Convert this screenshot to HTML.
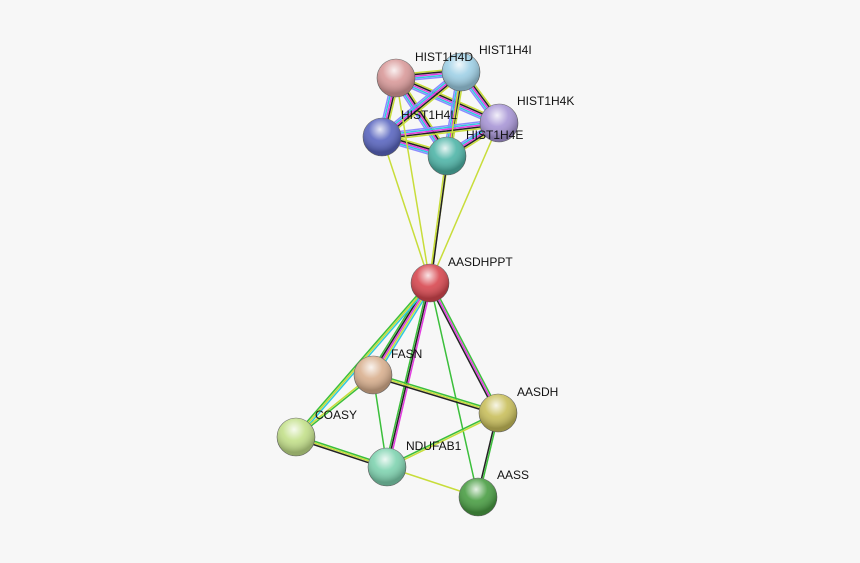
<!DOCTYPE html>
<html><head><meta charset="utf-8">
<style>
html,body{margin:0;padding:0;background:#f7f7f7;}
svg{display:block;}
text{font-family:"Liberation Sans",sans-serif;font-size:12px;fill:#111;}
</style></head>
<body>
<svg id="s" width="860" height="563" viewBox="0 0 860 563" xmlns="http://www.w3.org/2000/svg">
<defs>
<radialGradient id="hl" cx="45%" cy="30%" r="60%">
<stop offset="0" stop-color="#fff" stop-opacity="0.85"/>
<stop offset="0.5" stop-color="#fff" stop-opacity="0.1"/>
<stop offset="1" stop-color="#000" stop-opacity="0.25"/>
</radialGradient>
</defs>
<rect width="860" height="563" fill="#f7f7f7"/>
<g id="edges"></g>
<g id="nodes"></g>
<g>
<text x="415" y="61">HIST1H4D</text>
<text x="479" y="54">HIST1H4I</text>
<text x="517" y="105">HIST1H4K</text>
<text x="401" y="119">HIST1H4L</text>
<text x="466" y="139">HIST1H4E</text>
<text x="448" y="266">AASDHPPT</text>
<text x="391" y="358">FASN</text>
<text x="517" y="396">AASDH</text>
<text x="315" y="419">COASY</text>
<text x="406" y="450">NDUFAB1</text>
<text x="497" y="479">AASS</text>
</g>
</svg>
<script>
var N={
D:[396,78,'#d99a9a'],I:[461,72,'#9fd0e6'],K:[499,123,'#a896d6'],L:[382,137,'#5a66c0'],E:[447,156,'#4fb5a8'],
A:[430,283,'#d84850'],F:[373,375,'#d9b08f'],H:[498,413,'#c9bf5c'],C:[296,437,'#c3e08a'],
B:[387,467,'#7fd3b0'],S:[478,497,'#4a9e44']};
var hc=['#c8dd3a','#222','#e23ce0','#30c8e0','#8c8cff'];
var E=[
['D','I',hc],['D','K',hc],['D','L',hc],['D','E',hc],['I','K',hc],['I','L',hc],['I','E',hc],['K','L',hc],['K','E',hc],['L','E',hc],
['A','L',['#c8dd3a']],['A','D',['#c8dd3a']],['A','I',['#c8dd3a']],['A','K',['#c8dd3a']],['A','E',['#c8dd3a','#222']],
['A','F',['#30c8e0','#c8dd3a','#e23ce0','#222','#3bbf3b']],['A','H',['#3bbf3b','#e23ce0','#222']],['A','B',['#e23ce0','#222','#3bbf3b']],
['A','S',['#3bbf3b']],['A','C',['#30c8e0','#c8dd3a','#3bbf3b']],
['F','C',['#3bbf3b','#c8dd3a']],['F','H',['#3bbf3b','#c8dd3a','#222']],['F','B',['#3bbf3b']],
['C','B',['#3bbf3b','#c8dd3a','#222']],['B','H',['#3bbf3b','#c8dd3a']],['B','S',['#c8dd3a']],['H','S',['#3bbf3b','#222']]];
var ns='http://www.w3.org/2000/svg',eg=document.getElementById('edges'),ng=document.getElementById('nodes');
E.forEach(function(e){var a=N[e[0]],b=N[e[1]],c=e[2];var dx=b[0]-a[0],dy=b[1]-a[1],l=Math.hypot(dx,dy),px=-dy/l,py=dx/l;
c.forEach(function(col,i){var o=(i-(c.length-1)/2)*1.7;var ln=document.createElementNS(ns,'line');
ln.setAttribute('x1',a[0]+px*o);ln.setAttribute('y1',a[1]+py*o);ln.setAttribute('x2',b[0]+px*o);ln.setAttribute('y2',b[1]+py*o);
ln.setAttribute('stroke',col);ln.setAttribute('stroke-width',1.5);eg.appendChild(ln);});});
for(var k in N){var n=N[k];var c=document.createElementNS(ns,'circle');c.setAttribute('cx',n[0]);c.setAttribute('cy',n[1]);c.setAttribute('r',19);c.setAttribute('fill',n[2]);c.setAttribute('stroke','#666');c.setAttribute('stroke-width',0.6);ng.appendChild(c);
var h=document.createElementNS(ns,'circle');h.setAttribute('cx',n[0]);h.setAttribute('cy',n[1]);h.setAttribute('r',19);h.setAttribute('fill','url(#hl)');ng.appendChild(h);}
</script>
</body></html>
